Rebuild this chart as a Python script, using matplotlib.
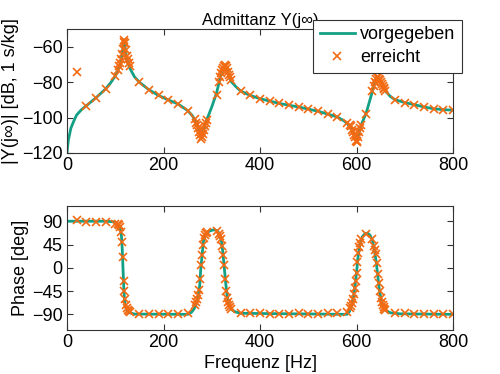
import matplotlib
matplotlib.use('Agg')
import matplotlib.pyplot as plt

plt.rcParams['font.family'] = ['Liberation Sans', 'DejaVu Sans']

# Vorgegebene Kurve: Betrag [dB]
f_mag = [0, 1, 3, 5, 8, 14, 20, 30, 40, 60, 80, 90, 100, 106, 110, 114, 117, 118, 119, 121, 125, 130,
         140, 150, 170, 190, 210, 230, 250, 260, 268, 274, 278, 281, 285, 290, 300, 310, 318, 324,
         328, 332, 336, 340, 350, 360, 380, 400, 440, 480, 520, 560, 575, 585, 592, 598, 601, 604,
         610, 620, 630, 638, 642, 645, 650, 660, 670, 680, 700, 720, 740, 760, 780, 800]
mag = [-120, -117, -112.5, -110, -106, -102, -98.5, -95.5, -93.3, -88.8, -83.8, -80.5, -76.5, -73, -70,
       -65, -58, -56, -57, -62, -68, -72, -77, -80, -84.3, -87.5, -90, -92.3, -96, -99, -103, -107,
       -111, -109, -105, -101, -94, -86, -77, -72.5, -71.5, -73, -77, -79.5, -82.5, -85, -87.5,
       -89.3, -92, -94, -96.4, -99.6, -102, -104.5, -107.5, -111, -112, -110, -104, -97.5, -88, -80,
       -78, -78, -80.5, -85, -88, -89.9, -91.5, -92.7, -94, -95, -95.5, -95.8]

# Vorgegebene Kurve: Phase [deg]
f_ph = [0, 80, 95, 100, 105, 108, 111, 113, 114.5, 116, 117.5, 119, 121, 125, 130, 140, 250, 258,
        263, 268, 272, 275, 277, 280, 283, 287, 293, 300, 306, 312, 316, 320, 323, 326, 329, 332,
        336, 340, 348, 360, 580, 585, 590, 594, 597, 600, 603, 607, 612, 618, 623, 628, 633, 637,
        641, 644, 647, 651, 655, 660, 670, 690, 800]
phase = [90, 90, 89, 87, 84, 80, 72, 60, 35, 0, -35, -60, -75, -83, -87, -89.5, -90, -86, -80,
         -70, -55, -35, -5, 25, 52, 64, 70, 72.5, 73.5, 71, 65, 52, 30, 0, -30, -55, -72, -80, -85,
         -88, -90, -85, -73, -55, -35, -10, 20, 45, 60, 66, 67, 63, 53, 35, 10, -15, -40, -62, -75,
         -82, -87, -89, -90]

# Erreichte Werte (Messpunkte)
f_err = [20, 40, 60, 80, 100,
         106, 108, 110, 112, 114, 116, 118, 119, 120, 122, 124, 126, 128, 130,
         150, 170, 190, 210, 230, 250,
         266, 268, 270, 272, 274, 276, 278, 280, 282, 284, 286, 288,
         290, 310,
         316, 318, 320, 322, 324, 326, 328, 330, 332, 334, 336, 338, 340,
         360, 380, 400, 420, 440, 460, 480, 500, 520, 540, 560, 580,
         586, 588, 590, 592, 594, 596, 598, 600, 602, 604, 606, 608, 610,
         620, 632,
         636, 638, 640, 642, 644, 646, 648, 650, 652, 654, 656, 658, 660,
         680, 700, 720, 740, 760, 780, 800]
mag_err = [-74.5, -93.5, -88.7, -83.7, -76.5,
           -73, -71, -69, -67, -64, -61, -57, -56, -58, -62, -65, -67, -69, -71,
           -80, -84.3, -87.5, -89.9, -92.3, -96,
           -101, -103, -104, -106, -108, -110, -112, -111, -109, -107, -105, -103,
           -101.5, -87,
           -80, -77, -75, -73, -72, -71, -70.5, -71, -72, -74, -76, -77, -79,
           -85, -87.5, -89.3, -90.8, -92, -93, -94, -95.2, -96.4, -97.7, -99.6, -103.3,
           -104, -105, -107, -108, -110, -111, -113, -114, -113, -111, -108, -106, -104,
           -97.7, -85,
           -82, -80, -78, -77, -77, -78, -79, -80, -81, -82, -83, -84, -85,
           -89.9, -91.5, -92.7, -94, -95, -95.5, -95.8]
phase_err = [93, 89, 89, 89, 85,
             84, 82, 78, 70, 50, 20, -25, -45, -60, -72, -78, -82, -84, -86,
             -89, -89, -89, -89, -89, -88,
             -72, -66, -60, -52, -42, -22, 5, 25, 45, 58, 63, 67,
             69, 72,
             66, 62, 55, 42, 25, 5, -22, -45, -58, -66, -72, -76, -79,
             -87, -88, -88, -89, -89, -89, -88, -89, -89, -88, -88, -86,
             -78, -74, -68, -60, -50, -40, -25, -10, 12, 28, 40, 48, 55,
             66, 56,
             42, 35, 27, 10, -12, -30, -44, -58, -66, -72, -76, -80, -82,
             -88, -88, -89, -89, -89, -89, -89]

farbe_linie = '#13a085'
farbe_marker = '#f26a12'

fig = plt.figure(figsize=(5, 3.74), dpi=100)
ax1 = fig.add_axes([0.134, 0.591, 0.772, 0.331])
ax2 = fig.add_axes([0.134, 0.118, 0.772, 0.332])

ax1.plot(f_mag, mag, color=farbe_linie, lw=2, label='vorgegeben')
ax1.plot(f_err, mag_err, 'x', color=farbe_marker, ms=5.5, mew=1.2, label='erreicht')
ax1.set_xlim(0, 800)
ax1.set_ylim(-120, -50)
ax1.set_yticks([-120, -100, -80, -60])
ax1.set_xticks([0, 200, 400, 600, 800])
ax1.set_ylabel('|Y(j\u221e)| [dB, 1 s/kg]', fontsize=13, labelpad=2)
ax1.set_title('Admittanz Y(j\u221e)', fontsize=12, pad=3)

ax2.plot(f_ph, phase, color=farbe_linie, lw=2)
ax2.plot(f_err, phase_err, 'x', color=farbe_marker, ms=5.5, mew=1.2)
ax2.set_xlim(0, 800)
ax2.set_ylim(-120, 120)
ax2.set_yticks([-90, -45, 0, 45, 90])
ax2.set_xticks([0, 200, 400, 600, 800])
ax2.set_ylabel('Phase [deg]', fontsize=13, labelpad=2)
ax2.set_xlabel('Frequenz [Hz]', fontsize=13, labelpad=3)

for ax in (ax1, ax2):
    ax.tick_params(direction='in', top=True, right=True, labelsize=13, length=4,
                   color='#333333', pad=3)
    for s in ax.spines.values():
        s.set_color('#333333')

leg = fig.legend(loc='upper right', bbox_to_anchor=(0.924, 0.947), fontsize=13,
                 fancybox=False, edgecolor='#333333', framealpha=1, borderaxespad=0,
                 handlelength=1.95, handletextpad=0.3, labelspacing=0.35, borderpad=0.35)
leg.get_frame().set_linewidth(0.8)

plt.savefig('out.png', dpi=100)
print('Saved: out.png')
